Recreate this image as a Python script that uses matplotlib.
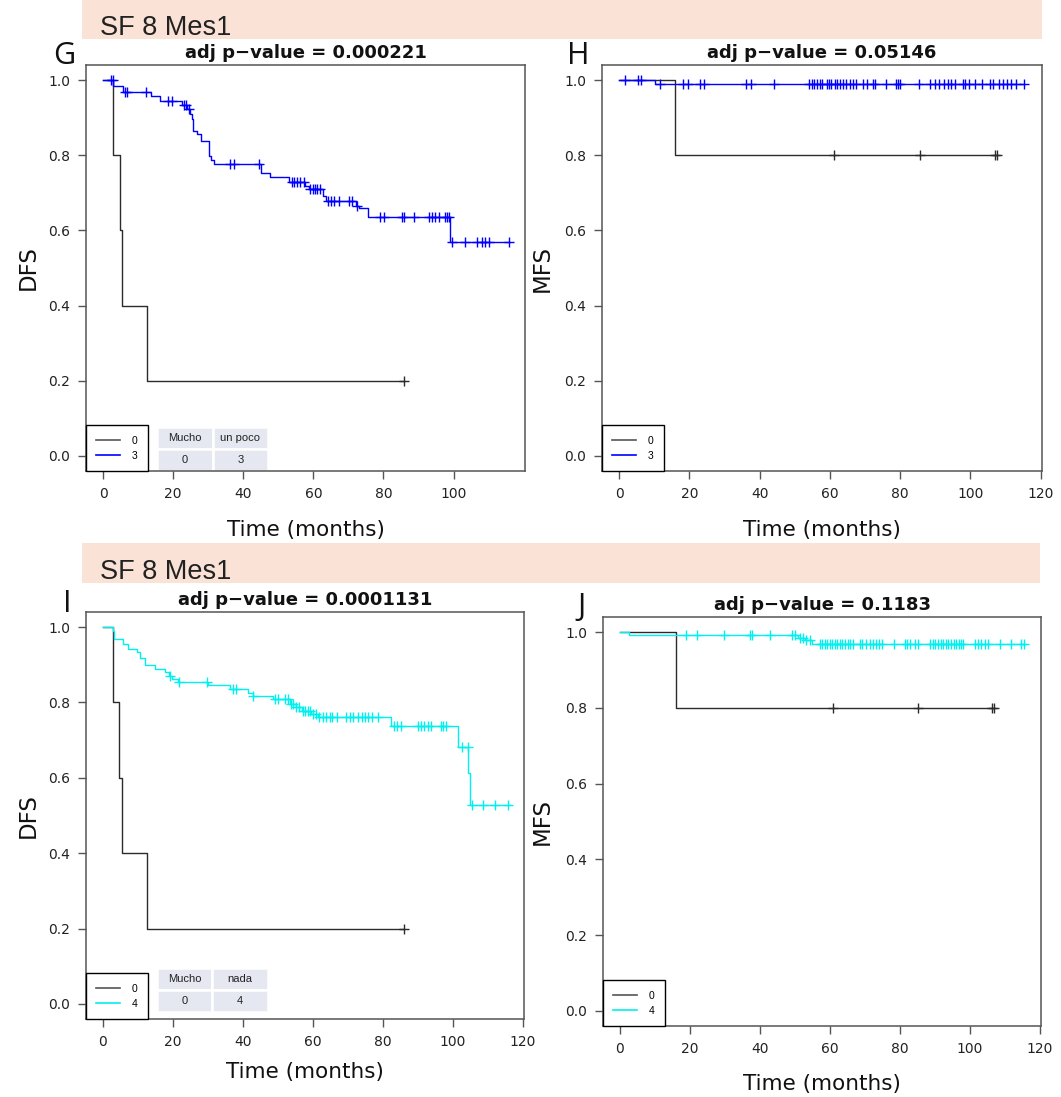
import numpy as np
import matplotlib
matplotlib.use("Agg")
import matplotlib.pyplot as plt
from matplotlib.patches import Rectangle
from matplotlib.lines import Line2D

plt.rcParams['font.family'] = ['DejaVu Sans']

W, H = 1061, 1097

# ---------------- data ----------------
# Panel G (DFS, groups 0 / 3)
g0_times = [0, 2.8, 4.7, 5.3, 12.6]
g0_surv = [1.0, 0.8, 0.6, 0.4, 0.2]
g0_censor = [86.0]
g3_times = [0, 2.9, 5.8, 13.7, 16.3, 22.5, 23.9, 24.7, 25.3, 25.8, 26.9, 27.9,
            30.1, 30.8, 31.7, 45.0, 47.7, 53.2, 57.7, 58.7, 62.9, 63.6, 72.2,
            72.9, 75.5, 99.1]
g3_surv = [1.0, 0.985, 0.969, 0.957, 0.945, 0.934, 0.922, 0.910, 0.896, 0.865,
           0.856, 0.839, 0.799, 0.788, 0.777, 0.754, 0.741, 0.728, 0.719, 0.710,
           0.692, 0.679, 0.666, 0.659, 0.635, 0.570]
g3_censor = [2.2, 2.8, 6.3, 6.8, 12.3, 18.4, 19.6, 23.1, 23.7, 24.5, 36.1, 37.4,
             44.4, 53.9, 54.6, 55.3, 56.3, 57.2, 59.1, 59.9, 60.6, 61.0, 62.0,
             64.1, 65.0, 66.0, 67.2, 70.1, 71.0, 72.5, 79.1, 80.1, 85.3, 85.8,
             88.7, 92.9, 93.9, 94.8, 95.8, 97.7, 98.2, 98.7, 99.6, 103.4, 106.8,
             108.2, 109.1, 110.1, 115.8]

# Panel H (MFS, groups 0 / 3)
h0_times = [0, 16.0]
h0_surv = [1.0, 0.8]
h0_censor = [61.1, 85.7, 107.0, 107.5]
h3_times = [0, 10.2]
h3_surv = [1.0, 0.99]
h3_censor = [1.6, 5.4, 6.2, 11.7, 18.1, 19.6, 22.9, 24.1, 36.0, 37.6, 44.1,
             54.0, 55.0, 55.6, 56.4, 57.1, 57.8, 59.2, 59.8, 60.4, 61.4, 62.1,
             62.9, 63.8, 64.6, 65.6, 66.7, 67.5, 69.4, 70.6, 72.3, 72.9, 76.1,
             78.8, 79.4, 79.9, 85.5, 88.5, 89.9, 91.2, 92.5, 93.5, 94.5, 95.7,
             97.9, 98.6, 99.5, 101.4, 103.3, 105.7, 106.4, 108.1, 109.4, 110.5,
             111.7, 112.9, 115.3]

# Panel I (DFS, groups 0 / 4)
i0_times = [0, 2.8, 4.7, 5.3, 12.6]
i0_surv = [1.0, 0.8, 0.6, 0.4, 0.2]
i0_censor = [86.0]
i4_times = [0, 2.8, 3.2, 5.6, 7.2, 9.6, 10.5, 12.0, 14.9, 17.7, 18.8, 19.7,
            21.5, 30.1, 36.3, 41.5, 43.0, 48.7, 53.4, 55.3, 56.8, 59.6, 61.5,
            82.5, 101.5, 104.4, 105.0]
i4_surv = [1.0, 0.99, 0.968, 0.955, 0.941, 0.933, 0.919, 0.899, 0.888, 0.880,
           0.870, 0.862, 0.855, 0.847, 0.835, 0.826, 0.817, 0.809, 0.795, 0.787,
           0.777, 0.769, 0.762, 0.738, 0.683, 0.614, 0.527]
i4_censor = [19.1, 21.8, 29.8, 37.2, 37.9, 43.0, 49.1, 50.1, 52.0, 52.9, 53.9,
             54.4, 55.3, 56.1, 57.2, 57.9, 58.6, 59.3, 60.1, 61.0, 61.8, 62.9,
             63.9, 64.8, 65.6, 66.8, 69.6, 70.6, 71.5, 73.0, 74.0, 74.9, 75.8,
             76.8, 78.7, 83.3, 84.2, 85.2, 90.0, 90.9, 91.9, 92.9, 93.8, 96.7,
             97.3, 98.1, 102.7, 104.3, 105.6, 108.8, 112.1, 115.9]

# Panel J (MFS, groups 0 / 4)
j0_times = [0, 16.0]
j0_surv = [1.0, 0.8]
j0_censor = [60.8, 85.2, 106.5, 106.9]
j4_times = [0, 2.7, 50.9, 52.9, 54.8]
j4_surv = [1.0, 0.992, 0.985, 0.978, 0.970]
j4_censor = [19.0, 21.9, 29.8, 37.1, 37.8, 42.9, 49.3, 50.0, 51.4, 52.4, 53.3,
             54.3, 57.1, 57.8, 58.6, 59.3, 60.0, 60.7, 61.4, 62.2, 62.9, 63.6,
             64.4, 65.2, 65.9, 66.7, 68.6, 69.3, 70.3, 71.4, 72.4, 73.1, 74.1,
             75.0, 78.3, 81.4, 82.1, 82.9, 84.3, 85.2, 88.6, 89.4, 90.2, 91.0,
             91.7, 92.4, 93.1, 93.9, 94.7, 95.5, 96.2, 97.0, 97.6, 98.1, 101.4,
             102.4, 103.3, 104.3, 105.2, 108.7, 111.9, 114.8, 115.4]

titles = ["adj p\u2212value = 0.000221", "adj p\u2212value = 0.05146",
          "adj p\u2212value = 0.0001131", "adj p\u2212value = 0.1183"]
panel_letters = ["G", "H", "I", "J"]
y_labels = ["DFS", "MFS", "DFS", "MFS"]
x_label = "Time (months)"
header_text = "SF 8 Mes1"
table_G = [["Mucho", "un poco"], ["0", "3"]]
table_I = [["Mucho", "nada"], ["0", "4"]]

REF_COLOR = "#2b2b2b"
BLUE = "#0000ff"
CYAN = "#00f0f0"
NARROW = ["Liberation Sans", "DejaVu Sans"]

# ---------------- helpers ----------------
def fig_box(l, t, r, b):
    return [l / W, 1 - b / H, (r - l) / W, (b - t) / H]


def km(ax, times, surv, censor, color):
    end = max(times[-1], max(censor))
    xs = list(times) + [end]
    ys = list(surv) + [surv[-1]]
    ax.step(xs, ys, where="post", color=color, lw=1.0)
    idx = np.searchsorted(times, censor, side="right") - 1
    cy = np.asarray(surv)[idx]
    ax.plot(censor, cy, ls="none", marker="+", ms=7, mew=1.0, color=color)


def style_axes(ax, xticks):
    ax.set_xlim(-4.86, 120.4)
    ax.set_ylim(-0.04, 1.04)
    ax.set_xticks(xticks)
    ax.set_yticks([0, 0.2, 0.4, 0.6, 0.8, 1.0])
    ax.set_yticklabels(["0.0", "0.2", "0.4", "0.6", "0.8", "1.0"])
    for s in ax.spines.values():
        s.set_color("#555555")
        s.set_linewidth(1.1)
    ax.tick_params(direction="out", length=6, width=1, color="#555555",
                   labelsize=10, pad=5.5, labelcolor="#222222")


def legend(ax, color, label):
    handles = [Line2D([], [], color="#555555", lw=1.2),
               Line2D([], [], color=color, lw=1.2)]
    lg = ax.legend(handles, ["0", label], loc="lower left",
                   bbox_to_anchor=(0, 0), borderaxespad=0,
                   prop={"family": NARROW, "size": 7.5},
                   fancybox=False, edgecolor="black", framealpha=1,
                   handlelength=2.3, handletextpad=1.1, borderpad=1.0,
                   labelspacing=0.45)
    lg.get_frame().set_linewidth(1.0)


def add_table(ax, cells, bbox):
    tb = ax.table(cellText=cells, cellLoc="center", bbox=bbox)
    tb.auto_set_font_size(False)
    for (r, c), cell in tb.get_celld().items():
        cell.set_facecolor("#e6e8f1")
        cell.set_edgecolor("white")
        cell.set_linewidth(1.8)
        cell.get_text().set_fontsize(8)
        cell.get_text().set_family(NARROW)
        cell.get_text().set_color("#222222")


fig = plt.figure(figsize=(W / 100, H / 100), dpi=100)

# header bars
for (l, t, r, b), ty in [((82, 0, 1042, 39), 35), ((82, 543, 1040, 583), 579)]:
    fig.add_artist(Rectangle((l / W, 1 - b / H), (r - l) / W, (b - t) / H,
                             transform=fig.transFigure, facecolor="#fae3d6",
                             edgecolor="none", zorder=0))
    fig.text(100 / W, 1 - ty / H, header_text, fontsize=19.5,
             family=NARROW, color="#222222", ha="left", va="baseline")

boxes = [(86, 65, 525, 471), (602, 65, 1042, 471),
         (86, 612, 524, 1019), (603, 617, 1041, 1026)]
letter_pos = [(64, 64), (578, 64), (67, 612), (582, 615)]
ylabel_x = [28, 542, 28, 542]
xlabel_y = [530, 530, 1072, 1084]

axes = [fig.add_axes(fig_box(*bx)) for bx in boxes]
axG, axH, axI, axJ = axes

km(axG, g0_times, g0_surv, g0_censor, REF_COLOR)
km(axG, g3_times, g3_surv, g3_censor, BLUE)
km(axH, h0_times, h0_surv, h0_censor, REF_COLOR)
km(axH, h3_times, h3_surv, h3_censor, BLUE)
km(axI, i0_times, i0_surv, i0_censor, REF_COLOR)
km(axI, i4_times, i4_surv, i4_censor, CYAN)
km(axJ, j0_times, j0_surv, j0_censor, REF_COLOR)
km(axJ, j4_times, j4_surv, j4_censor, CYAN)

style_axes(axG, [0, 20, 40, 60, 80, 100])
style_axes(axH, [0, 20, 40, 60, 80, 100, 120])
style_axes(axI, [0, 20, 40, 60, 80, 100, 120])
style_axes(axJ, [0, 20, 40, 60, 80, 100, 120])

legend(axG, BLUE, "3")
legend(axH, BLUE, "3")
legend(axI, CYAN, "4")
legend(axJ, CYAN, "4")

add_table(axG, table_G, [0.162, 0.0, 0.253, 0.108])
add_table(axI, table_I, [0.162, 0.017, 0.253, 0.108])

for k, ax in enumerate(axes):
    l, t, r, b = boxes[k]
    ax.set_title(titles[k], fontsize=13, fontweight="bold", pad=5,
                 color="#111111")
    lx, ly = letter_pos[k]
    fig.text(lx / W, 1 - ly / H, panel_letters[k], fontsize=22,
             family=["Open Sans", "DejaVu Sans"], ha="center",
             va="baseline", color="#111111")
    fig.text(ylabel_x[k] / W, 1 - ((t + b) / 2) / H, y_labels[k],
             rotation=90, fontsize=16.5, ha="center", va="center",
             color="#111111")
    fig.text(((l + r) / 2) / W, 1 - xlabel_y[k] / H, x_label,
             fontsize=15.5, ha="center", va="center", color="#111111")

fig.savefig("out.png", dpi=100, facecolor="white")
